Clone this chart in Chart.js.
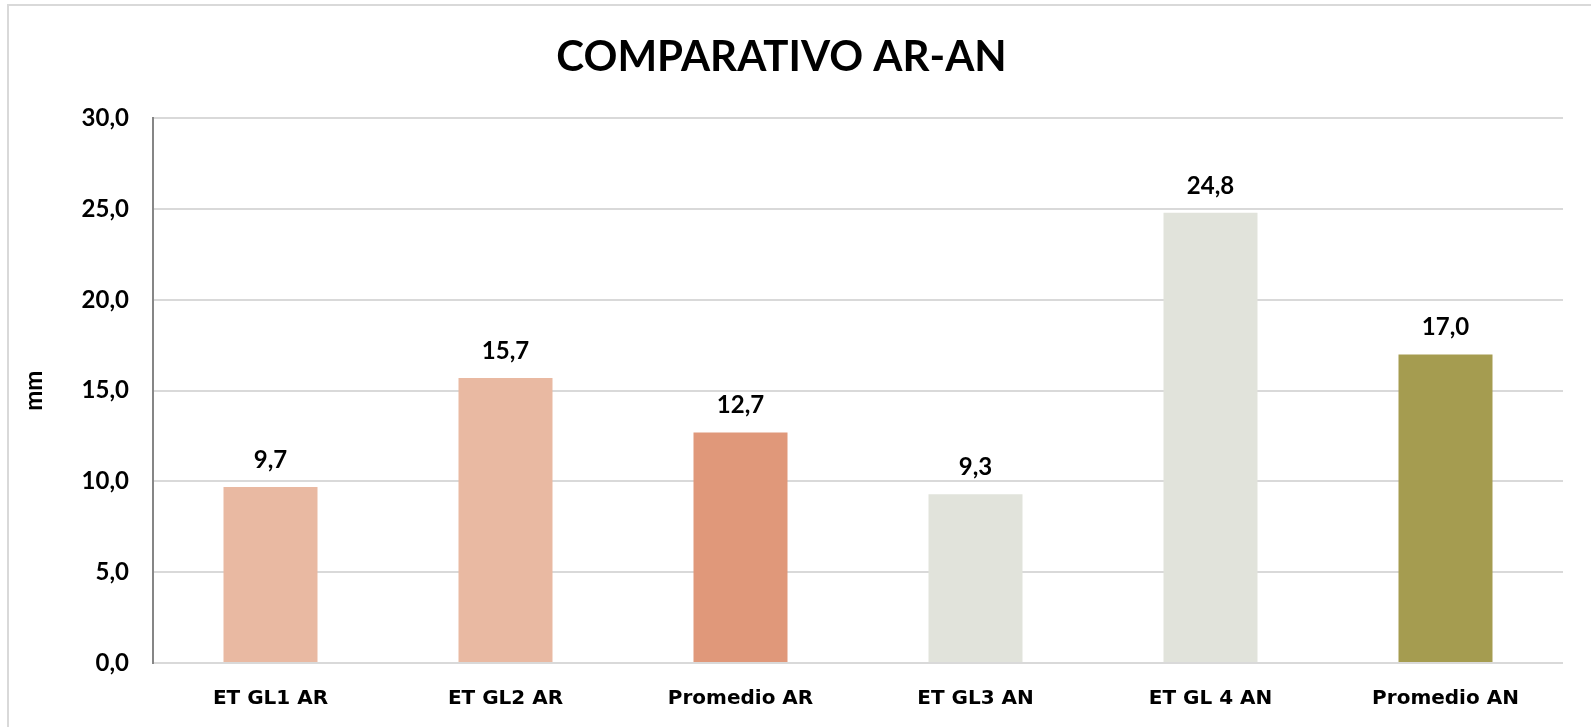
<!DOCTYPE html>
<html>
<head>
<meta charset="utf-8">
<script src="https://cdn.jsdelivr.net/npm/chart.js@4.4.1/dist/chart.umd.min.js"></script>
<style>
  html, body { margin: 0; padding: 0; background: #fff; }
  #wrap { position: relative; width: 1591px; height: 727px; }
</style>
</head>
<body>
<div id="wrap"><canvas id="chart" width="1591" height="727"></canvas></div>
<script>
const categories = ["ET GL1 AR", "ET GL2 AR", "Promedio AR", "ET GL3 AN", "ET GL 4 AN", "Promedio AN"];
const values = [9.7, 15.7, 12.7, 9.3, 24.8, 17.0];
const barColors = ["#e9b9a2", "#e9b9a2", "#e0987a", "#e1e3db", "#e1e3db", "#a59c50"];
const yTicks = [0, 5, 10, 15, 20, 25, 30];

const FONT = "Lato, 'Open Sans', sans-serif";
const WIDE_FONT = "'DejaVu Sans', 'Open Sans', sans-serif";

function fmt(v){
  return v.toFixed(1).replace(".", ",");
}

// frame around the whole chart (only left/top edges are visible in the picture)
const framePlugin = {
  id: "frame",
  beforeDraw(chart){
    const ctx = chart.ctx;
    ctx.save();
    ctx.strokeStyle = "#d9d9d9";
    ctx.lineWidth = 2;
    ctx.strokeRect(8, 5, 1640, 760);
    ctx.restore();
  }
};

// value labels above each bar
const valueLabels = {
  id: "valueLabels",
  afterDatasetsDraw(chart){
    const ctx = chart.ctx;
    const meta = chart.getDatasetMeta(0);
    ctx.save();
    ctx.font = "bold 24px " + FONT;
    ctx.fillStyle = "#000";
    ctx.textAlign = "center";
    ctx.textBaseline = "middle";
    meta.data.forEach((bar, i) => {
      ctx.fillText(fmt(values[i]), bar.x, bar.y - 27);
    });
    ctx.restore();
  }
};

new Chart(document.getElementById("chart"), {
  type: "bar",
  data: {
    labels: categories,
    datasets: [{
      data: values,
      backgroundColor: barColors,
      borderWidth: 0,
      barPercentage: 0.4,
      categoryPercentage: 1.0
    }]
  },
  options: {
    responsive: false,
    animation: false,
    layout: { padding: { left: 0, right: 28, top: 0, bottom: 0 } },
    plugins: {
      legend: { display: false },
      tooltip: { enabled: false },
      title: {
        display: true,
        text: "COMPARATIVO AR-AN",
        color: "#000",
        font: { family: FONT, size: 42, weight: "bold", lineHeight: 1.2 },
        padding: { top: 32, bottom: 36 }
      }
    },
    scales: {
      x: {
        grid: { display: false, drawTicks: false },
        border: { display: false },
        ticks: {
          color: "#000",
          font: { family: WIDE_FONT, size: 20, weight: "bold" },
          padding: 24,
          maxRotation: 0
        },
        afterFit(scale){ scale.height = 64; }
      },
      y: {
        min: 0,
        max: 30,
        afterBuildTicks(scale){
          scale.ticks = yTicks.map(v => ({ value: v }));
        },
        grid: { color: "#d9d9d9", lineWidth: 2, drawTicks: false },
        border: { display: true, color: "#868686", width: 2 },
        ticks: {
          color: "#000",
          font: { family: FONT, size: 24, weight: "bold" },
          padding: 24,
          callback: v => fmt(v)
        },
        title: {
          display: true,
          text: "mm",
          color: "#000",
          font: { family: FONT, size: 24, weight: "bold", lineHeight: 1.2 },
          padding: { top: 20, bottom: 0 }
        },
        afterFit(scale){ scale.width = 153; }
      }
    }
  },
  plugins: [framePlugin, valueLabels]
});
</script>
</body>
</html>
